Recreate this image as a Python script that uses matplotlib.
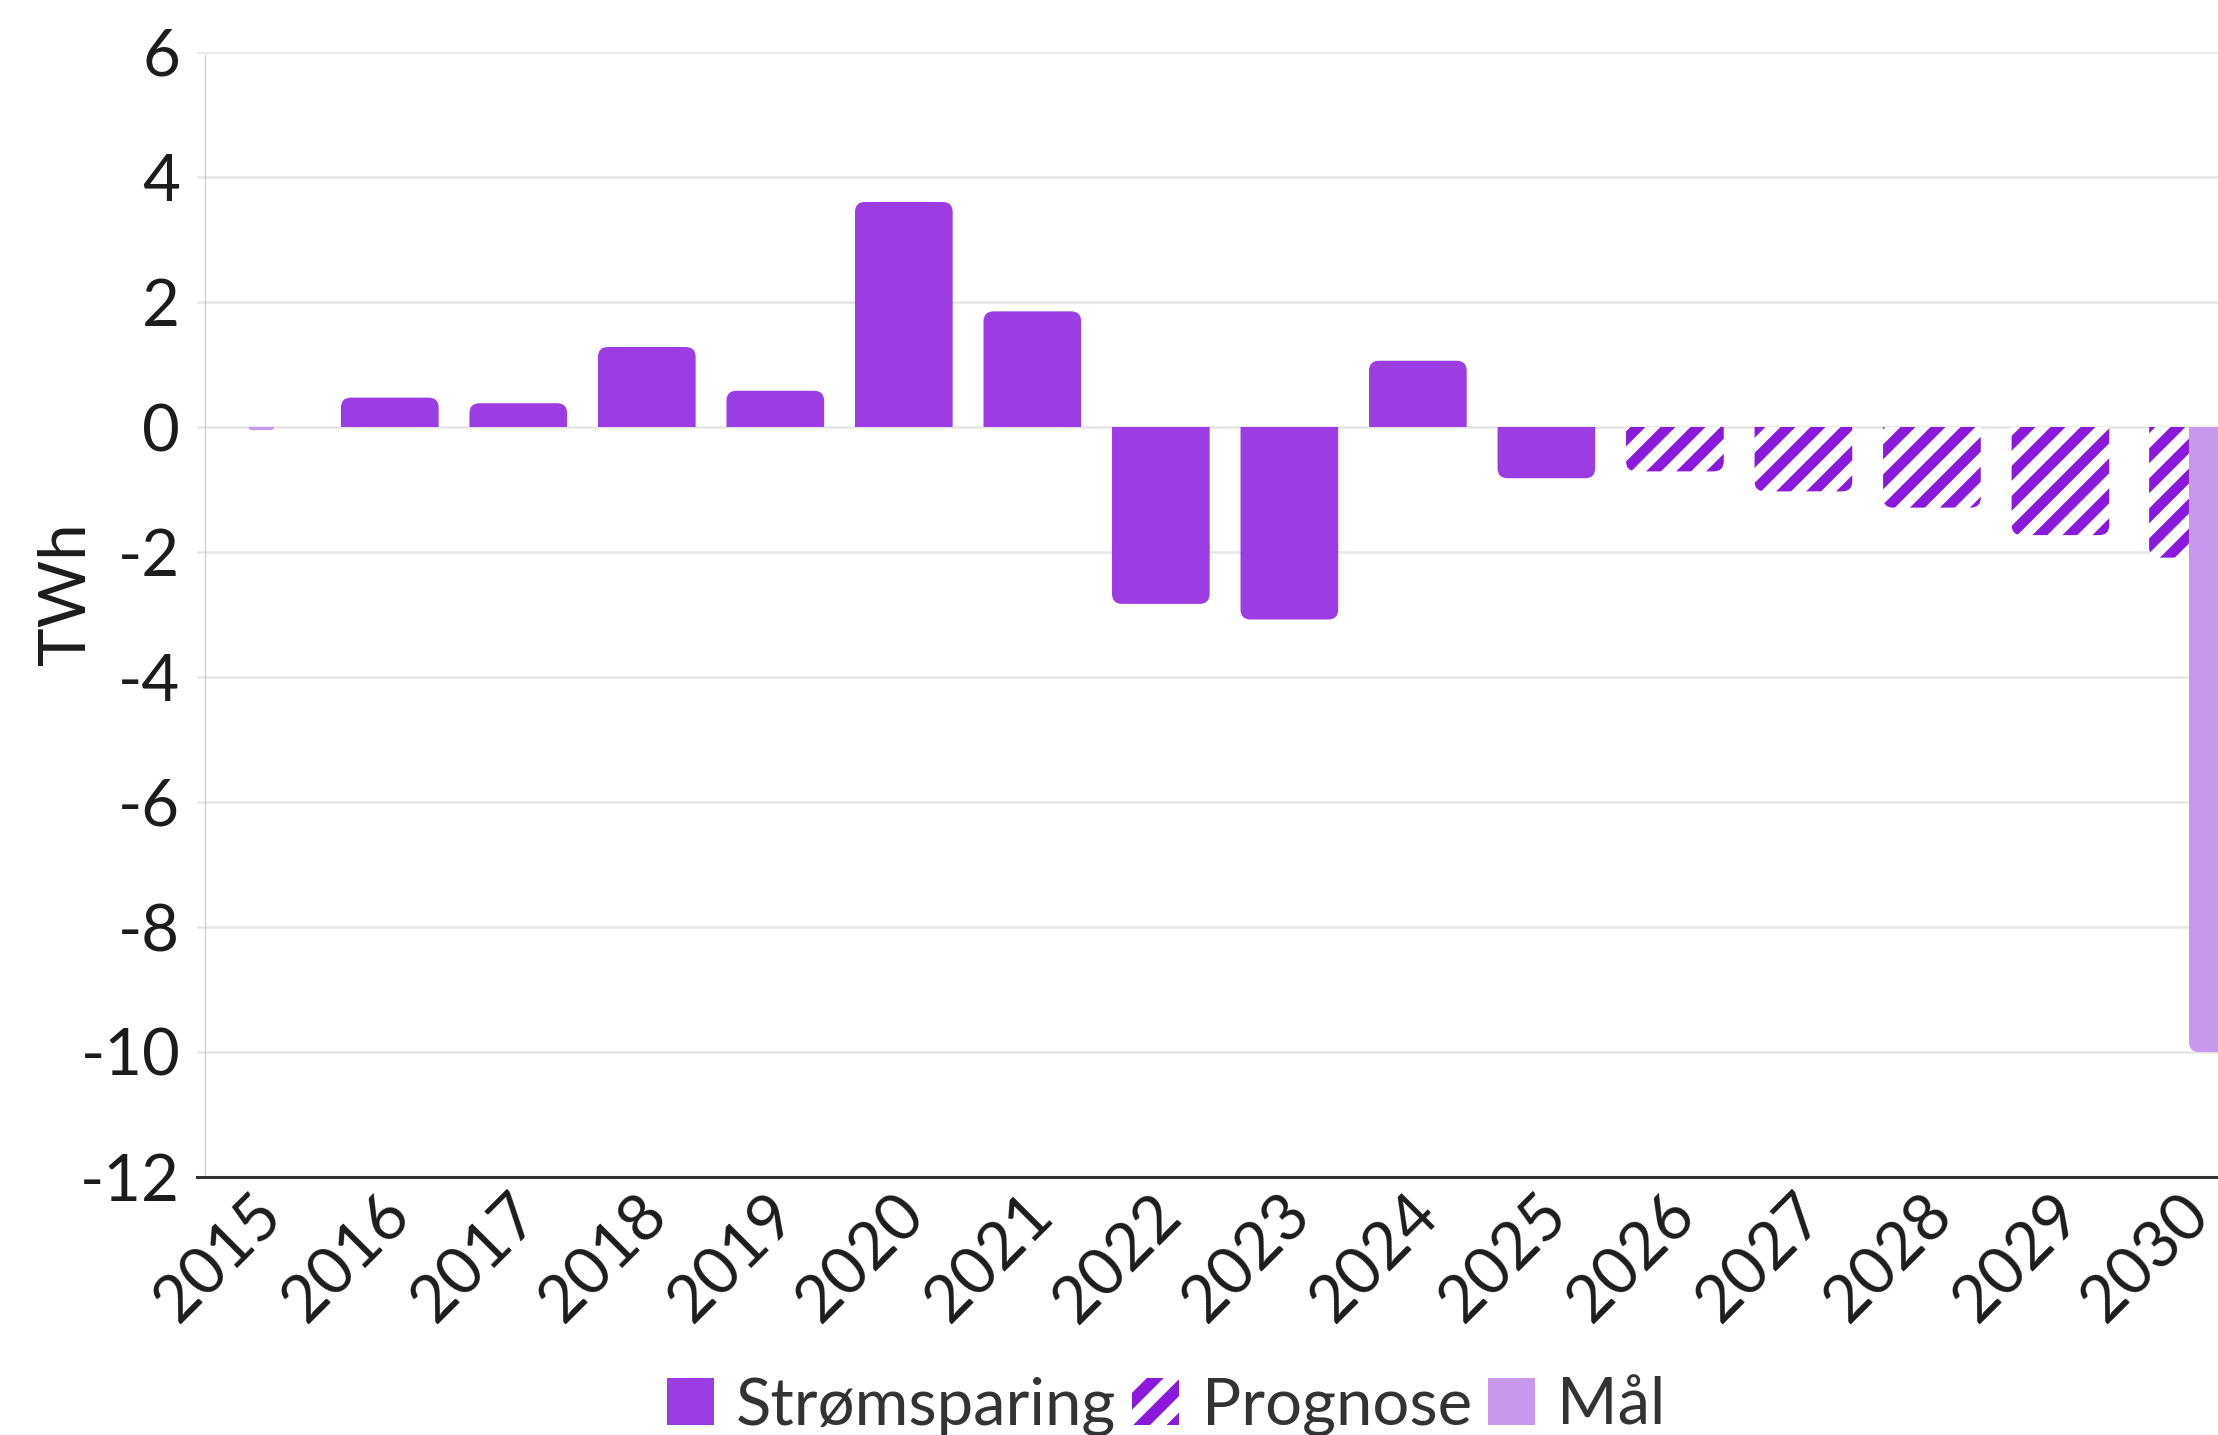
import numpy as np
import matplotlib
matplotlib.use('Agg')
import matplotlib.pyplot as plt
from matplotlib.path import Path
from matplotlib.patches import PathPatch, Patch
from matplotlib.collections import LineCollection
from matplotlib.transforms import IdentityTransform, ScaledTranslation

plt.rcParams['font.family'] = ['Lato', 'DejaVu Sans']
plt.rcParams['hatch.linewidth'] = 4.3
plt.rcParams['axes.unicode_minus'] = False

# data
years = [str(y) for y in range(2015, 2031)]
stromsparing = [np.nan, 0.47, 0.38, 1.28, 0.58, 3.6, 1.85, -2.83, -3.08, 1.06, -0.82,
                np.nan, np.nan, np.nan, np.nan, np.nan]
prognose = [np.nan] * 11 + [-0.71, -1.03, -1.29, -1.73, -2.09]
maal = [-0.05] + [np.nan] * 14 + [-10.0]

C_STROM = '#9c3ce3'
C_PROG = '#8a19db'
C_MAAL = '#c898ee'
TXT = '#1c1c1c'
FS = 23.5

W, H, DPI = 2218, 1435, 200
fig = plt.figure(figsize=(W / DPI, H / DPI), dpi=DPI)
ax = fig.add_axes([197 / W, 258 / H, (W - 197) / W, (1177 - 52) / H])

x = np.arange(len(years))
ax.set_xlim(-0.5, 15.226)
ax.set_ylim(-12, 6)

# plain bars first, then swapped for rounded ones
b1 = ax.bar(x, stromsparing, width=0.76)
prog_off = np.array([0] * 15 + [-0.155])
prog_w = np.array([0.76] * 15 + [0.31])
b2 = ax.bar(x + prog_off, prognose, width=prog_w)
maal_off = np.array([0] * 15 + [0.19])
maal_w = np.array([0.2] + [0.76] * 14 + [0.38])
b3 = ax.bar(x + maal_off, maal, width=maal_w)


def rounded(rect, radius=10):
    x0, y0 = rect.get_x(), rect.get_y()
    w, h = rect.get_width(), rect.get_height()
    (px0, py0), (px1, py1) = ax.transData.transform([(x0, y0), (x0 + w, y0 + h)])
    s = 1 if py1 >= py0 else -1
    r = min(radius, abs(py1 - py0), (px1 - px0) / 2)
    verts = [(px0, py0), (px0, py1 - s * r), (px0, py1), (px0 + r, py1),
             (px1 - r, py1), (px1, py1), (px1, py1 - s * r), (px1, py0), (px0, py0)]
    codes = [Path.MOVETO, Path.LINETO, Path.CURVE3, Path.CURVE3,
             Path.LINETO, Path.CURVE3, Path.CURVE3, Path.LINETO, Path.CLOSEPOLY]
    return Path(verts, codes)


def stripes(patch, period=30, lw=3.8, color=C_PROG):
    # diagonal "/" stripes on a global grid, clipped to the bar shape
    ext = patch.get_path().get_extents()
    segs = []
    c0 = np.floor((ext.y0 - ext.x1) / period) * period
    for c in np.arange(c0, ext.y1 - ext.x0 + period, period):
        segs.append([(ext.x0 - 5, ext.x0 - 5 + c), (ext.x1 + 5, ext.x1 + 5 + c)])
    lc = LineCollection(segs, colors=color, linewidths=lw, transform=IdentityTransform(),
                        zorder=4, capstyle='butt')
    ax.add_artist(lc)
    lc.set_clip_path(patch)


for bars, fc, hatched in [(b1, C_STROM, False), (b2, 'white', True), (b3, C_MAAL, False)]:
    for rect in bars:
        rect.set_visible(False)
        if np.isnan(rect.get_height()):
            continue
        p = PathPatch(rounded(rect), transform=IdentityTransform(),
                      facecolor=fc, edgecolor='none', lw=0, zorder=3)
        ax.add_artist(p)
        if hatched:
            stripes(p)

# grid and axes
ax.set_yticks(np.arange(-12, 7, 2))
ax.yaxis.grid(True, color='#e6e6e6', lw=0.9, zorder=0)
ax.set_axisbelow(True)
for s in ['top', 'right', 'left']:
    ax.spines[s].set_visible(False)
ax.spines['bottom'].set_color('#333333')
ax.spines['bottom'].set_linewidth(1.1)
ax.plot([-0.438, -0.438], [-12, 5.95], color='#cccccc', lw=0.45, zorder=1, clip_on=False)

ax.tick_params(axis='y', length=0, pad=6, labelsize=FS, labelcolor=TXT)
ax.tick_params(axis='x', length=0, labelsize=FS, labelcolor=TXT)
ax.set_xticks(x)
ax.set_xticklabels(years, rotation=45, ha='right', va='center', rotation_mode='anchor')
off = ScaledTranslation(11 / DPI, -18 / DPI, fig.dpi_scale_trans)
for lab in ax.get_xticklabels():
    lab.set_transform(lab.get_transform() + off)

fig.text(66 / W, 1 - 594 / H, 'TWh', rotation=90, ha='center', va='center',
         fontsize=FS, color=TXT)

handles = [Patch(facecolor=C_STROM, edgecolor=C_STROM, lw=0),
           Patch(facecolor='white', edgecolor=C_PROG, hatch='//', lw=0),
           Patch(facecolor=C_MAAL, edgecolor=C_MAAL, lw=0)]
leg = fig.legend(handles, ['Strømsparing', 'Prognose', 'Mål'], loc='center',
                 bbox_to_anchor=(1166 / W, 1 - 1406 / H), ncol=3, frameon=False,
                 fontsize=FS, handlelength=0.72, handleheight=0.72,
                 handletextpad=0.34, columnspacing=0.25, borderpad=0, borderaxespad=0)
for t in leg.get_texts():
    t.set_color('#333333')

fig.savefig('out.png', dpi=DPI, facecolor='white')
